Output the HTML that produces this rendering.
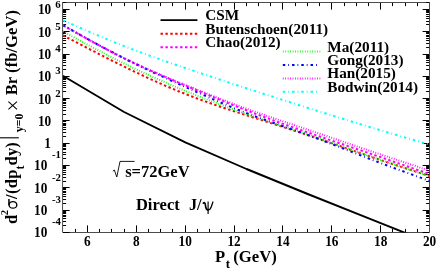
<!DOCTYPE html>
<html><head><meta charset="utf-8"><title>plot</title>
<style>html,body{margin:0;padding:0;background:#fff;}svg{display:block;will-change:transform;}text{font-family:"Liberation Serif",serif;font-weight:bold;fill:#000;}</style></head><body>
<svg width="436" height="268" viewBox="0 0 436 268">
<rect x="0" y="0" width="436" height="268" fill="#fff"/>
<rect x="62.7" y="2.5" width="366.8" height="230.0" fill="none" stroke="#000" stroke-width="0.7"/>
<path d="M75.5,232.0 v-3.1 M75.5,3.0 v3.1 M87.5,232.0 v-6.6 M87.5,3.0 v6.6 M99.5,232.0 v-3.1 M99.5,3.0 v3.1 M111.5,232.0 v-3.1 M111.5,3.0 v3.1 M124.5,232.0 v-3.1 M124.5,3.0 v3.1 M136.5,232.0 v-6.6 M136.5,3.0 v6.6 M148.5,232.0 v-3.1 M148.5,3.0 v3.1 M160.5,232.0 v-3.1 M160.5,3.0 v3.1 M172.5,232.0 v-3.1 M172.5,3.0 v3.1 M185.5,232.0 v-6.6 M185.5,3.0 v6.6 M197.5,232.0 v-3.1 M197.5,3.0 v3.1 M209.5,232.0 v-3.1 M209.5,3.0 v3.1 M221.5,232.0 v-3.1 M221.5,3.0 v3.1 M234.5,232.0 v-6.6 M234.5,3.0 v6.6 M246.5,232.0 v-3.1 M246.5,3.0 v3.1 M258.5,232.0 v-3.1 M258.5,3.0 v3.1 M270.5,232.0 v-3.1 M270.5,3.0 v3.1 M282.5,232.0 v-6.6 M282.5,3.0 v6.6 M295.5,232.0 v-3.1 M295.5,3.0 v3.1 M307.5,232.0 v-3.1 M307.5,3.0 v3.1 M319.5,232.0 v-3.1 M319.5,3.0 v3.1 M331.5,232.0 v-6.6 M331.5,3.0 v6.6 M344.5,232.0 v-3.1 M344.5,3.0 v3.1 M356.5,232.0 v-3.1 M356.5,3.0 v3.1 M368.5,232.0 v-3.1 M368.5,3.0 v3.1 M380.5,232.0 v-6.6 M380.5,3.0 v6.6 M392.5,232.0 v-3.1 M392.5,3.0 v3.1 M405.5,232.0 v-3.1 M405.5,3.0 v3.1 M417.5,232.0 v-3.1 M417.5,3.0 v3.1 M63.0,232.5 h6.6 M429.2,232.5 h-6.6 M63.0,225.5 h3.1 M429.2,225.5 h-3.1 M63.0,221.5 h3.1 M429.2,221.5 h-3.1 M63.0,218.5 h3.1 M429.2,218.5 h-3.1 M63.0,216.5 h3.1 M429.2,216.5 h-3.1 M63.0,215.5 h3.1 M429.2,215.5 h-3.1 M63.0,213.5 h3.1 M429.2,213.5 h-3.1 M63.0,212.5 h3.1 M429.2,212.5 h-3.1 M63.0,211.5 h3.1 M429.2,211.5 h-3.1 M63.0,210.5 h6.6 M429.2,210.5 h-6.6 M63.0,203.5 h3.1 M429.2,203.5 h-3.1 M63.0,199.5 h3.1 M429.2,199.5 h-3.1 M63.0,196.5 h3.1 M429.2,196.5 h-3.1 M63.0,194.5 h3.1 M429.2,194.5 h-3.1 M63.0,192.5 h3.1 M429.2,192.5 h-3.1 M63.0,191.5 h3.1 M429.2,191.5 h-3.1 M63.0,189.5 h3.1 M429.2,189.5 h-3.1 M63.0,188.5 h3.1 M429.2,188.5 h-3.1 M63.0,187.5 h6.6 M429.2,187.5 h-6.6 M63.0,181.5 h3.1 M429.2,181.5 h-3.1 M63.0,177.5 h3.1 M429.2,177.5 h-3.1 M63.0,174.5 h3.1 M429.2,174.5 h-3.1 M63.0,172.5 h3.1 M429.2,172.5 h-3.1 M63.0,170.5 h3.1 M429.2,170.5 h-3.1 M63.0,168.5 h3.1 M429.2,168.5 h-3.1 M63.0,167.5 h3.1 M429.2,167.5 h-3.1 M63.0,166.5 h3.1 M429.2,166.5 h-3.1 M63.0,165.5 h6.6 M429.2,165.5 h-6.6 M63.0,158.5 h3.1 M429.2,158.5 h-3.1 M63.0,154.5 h3.1 M429.2,154.5 h-3.1 M63.0,152.5 h3.1 M429.2,152.5 h-3.1 M63.0,149.5 h3.1 M429.2,149.5 h-3.1 M63.0,148.5 h3.1 M429.2,148.5 h-3.1 M63.0,146.5 h3.1 M429.2,146.5 h-3.1 M63.0,145.5 h3.1 M429.2,145.5 h-3.1 M63.0,144.5 h3.1 M429.2,144.5 h-3.1 M63.0,143.5 h6.6 M429.2,143.5 h-6.6 M63.0,136.5 h3.1 M429.2,136.5 h-3.1 M63.0,132.5 h3.1 M429.2,132.5 h-3.1 M63.0,129.5 h3.1 M429.2,129.5 h-3.1 M63.0,127.5 h3.1 M429.2,127.5 h-3.1 M63.0,125.5 h3.1 M429.2,125.5 h-3.1 M63.0,124.5 h3.1 M429.2,124.5 h-3.1 M63.0,123.5 h3.1 M429.2,123.5 h-3.1 M63.0,121.5 h3.1 M429.2,121.5 h-3.1 M63.0,120.5 h6.6 M429.2,120.5 h-6.6 M63.0,114.5 h3.1 M429.2,114.5 h-3.1 M63.0,110.5 h3.1 M429.2,110.5 h-3.1 M63.0,107.5 h3.1 M429.2,107.5 h-3.1 M63.0,105.5 h3.1 M429.2,105.5 h-3.1 M63.0,103.5 h3.1 M429.2,103.5 h-3.1 M63.0,102.5 h3.1 M429.2,102.5 h-3.1 M63.0,100.5 h3.1 M429.2,100.5 h-3.1 M63.0,99.5 h3.1 M429.2,99.5 h-3.1 M63.0,98.5 h6.6 M429.2,98.5 h-6.6 M63.0,91.5 h3.1 M429.2,91.5 h-3.1 M63.0,87.5 h3.1 M429.2,87.5 h-3.1 M63.0,85.5 h3.1 M429.2,85.5 h-3.1 M63.0,83.5 h3.1 M429.2,83.5 h-3.1 M63.0,81.5 h3.1 M429.2,81.5 h-3.1 M63.0,79.5 h3.1 M429.2,79.5 h-3.1 M63.0,78.5 h3.1 M429.2,78.5 h-3.1 M63.0,77.5 h3.1 M429.2,77.5 h-3.1 M63.0,76.5 h6.6 M429.2,76.5 h-6.6 M63.0,69.5 h3.1 M429.2,69.5 h-3.1 M63.0,65.5 h3.1 M429.2,65.5 h-3.1 M63.0,62.5 h3.1 M429.2,62.5 h-3.1 M63.0,60.5 h3.1 M429.2,60.5 h-3.1 M63.0,58.5 h3.1 M429.2,58.5 h-3.1 M63.0,57.5 h3.1 M429.2,57.5 h-3.1 M63.0,56.5 h3.1 M429.2,56.5 h-3.1 M63.0,55.5 h3.1 M429.2,55.5 h-3.1 M63.0,54.5 h6.6 M429.2,54.5 h-6.6 M63.0,47.5 h3.1 M429.2,47.5 h-3.1 M63.0,43.5 h3.1 M429.2,43.5 h-3.1 M63.0,40.5 h3.1 M429.2,40.5 h-3.1 M63.0,38.5 h3.1 M429.2,38.5 h-3.1 M63.0,36.5 h3.1 M429.2,36.5 h-3.1 M63.0,35.5 h3.1 M429.2,35.5 h-3.1 M63.0,33.5 h3.1 M429.2,33.5 h-3.1 M63.0,32.5 h3.1 M429.2,32.5 h-3.1 M63.0,31.5 h6.6 M429.2,31.5 h-6.6 M63.0,24.5 h3.1 M429.2,24.5 h-3.1 M63.0,21.5 h3.1 M429.2,21.5 h-3.1 M63.0,18.5 h3.1 M429.2,18.5 h-3.1 M63.0,16.5 h3.1 M429.2,16.5 h-3.1 M63.0,14.5 h3.1 M429.2,14.5 h-3.1 M63.0,12.5 h3.1 M429.2,12.5 h-3.1 M63.0,11.5 h3.1 M429.2,11.5 h-3.1 M63.0,10.5 h3.1 M429.2,10.5 h-3.1 M63.0,9.5 h6.6 M429.2,9.5 h-6.6 M63.0,2.5 h3.1 M429.2,2.5 h-3.1" stroke="#000" stroke-width="1" fill="none"/>
<clipPath id="c"><rect x="62.7" y="2.5" width="366.8" height="230.0"/></clipPath>
<g clip-path="url(#c)" fill="none" stroke-width="2">
<path d="M62.90,75.80 L124.10,112.00 L185.30,142.40 L246.50,169.00 L307.70,194.00 L368.80,218.40 L403.90,232.40 L430.00,242.80" stroke="#000" stroke-width="1.9" stroke-linejoin="round"/>
<path d="M62.90,35.30 L69.02,38.50 L75.13,41.69 L81.25,44.87 L87.37,48.04 L93.48,51.19 L99.60,54.33 L105.72,57.44 L111.83,60.52 L117.95,63.57 L124.07,66.58 L130.18,69.56 L136.30,72.49 L142.42,75.37 L148.53,78.20 L154.65,80.97 L160.77,83.69 L166.88,86.35 L173.00,88.94 L179.12,91.46 L185.23,93.91 L191.35,96.29 L197.47,98.60 L203.58,100.84 L209.70,103.03 L215.82,105.16 L221.93,107.26 L228.05,109.31 L234.17,111.33 L240.28,113.32 L246.40,115.30 L252.52,117.26 L258.63,119.21 L264.75,121.16 L270.87,123.10 L276.98,125.05 L283.10,127.01 L289.22,128.98 L295.33,130.96 L301.45,132.96 L307.57,134.99 L313.68,137.04 L319.80,139.12 L325.92,141.22 L332.03,143.33 L338.15,145.45 L344.27,147.57 L350.38,149.69 L356.50,151.81 L362.62,153.92 L368.73,156.01 L374.85,158.09 L380.97,160.14 L387.08,162.18 L393.20,164.21 L399.32,166.23 L405.43,168.23 L411.55,170.23 L417.67,172.22 L423.78,174.21 L429.90,176.20" stroke="#ff0000" stroke-dasharray="2.45 2.45"/>
<path d="M62.90,25.20 L69.02,28.65 L75.13,32.10 L81.25,35.53 L87.37,38.93 L93.48,42.30 L99.60,45.62 L105.72,48.89 L111.83,52.09 L117.95,55.23 L124.07,58.28 L130.18,61.25 L136.30,64.14 L142.42,66.96 L148.53,69.71 L154.65,72.42 L160.77,75.07 L166.88,77.69 L173.00,80.28 L179.12,82.85 L185.23,85.41 L191.35,87.97 L197.47,90.52 L203.58,93.07 L209.70,95.59 L215.82,98.11 L221.93,100.60 L228.05,103.07 L234.17,105.51 L240.28,107.92 L246.40,110.30 L252.52,112.64 L258.63,114.94 L264.75,117.21 L270.87,119.45 L276.98,121.67 L283.10,123.85 L289.22,126.01 L295.33,128.16 L301.45,130.28 L307.57,132.39 L313.68,134.48 L319.80,136.57 L325.92,138.64 L332.03,140.71 L338.15,142.78 L344.27,144.84 L350.38,146.90 L356.50,148.97 L362.62,151.04 L368.73,153.11 L374.85,155.20 L380.97,157.29 L387.08,159.39 L393.20,161.49 L399.32,163.60 L405.43,165.72 L411.55,167.83 L417.67,169.95 L423.78,172.08 L429.90,174.20" stroke="#ff00ff" stroke-dasharray="2.45 2.45"/>
<path d="M62.90,31.40 L69.02,34.71 L75.13,38.02 L81.25,41.31 L87.37,44.58 L93.48,47.83 L99.60,51.05 L105.72,54.23 L111.83,57.37 L117.95,60.45 L124.07,63.48 L130.18,66.45 L136.30,69.36 L142.42,72.22 L148.53,75.02 L154.65,77.76 L160.77,80.46 L166.88,83.11 L173.00,85.72 L179.12,88.29 L185.23,90.81 L191.35,93.30 L197.47,95.76 L203.58,98.17 L209.70,100.55 L215.82,102.89 L221.93,105.19 L228.05,107.46 L234.17,109.68 L240.28,111.86 L246.40,114.00 L252.52,116.10 L258.63,118.17 L264.75,120.21 L270.87,122.23 L276.98,124.24 L283.10,126.25 L289.22,128.26 L295.33,130.28 L301.45,132.32 L307.57,134.39 L313.68,136.49 L319.80,138.62 L325.92,140.77 L332.03,142.93 L338.15,145.11 L344.27,147.28 L350.38,149.46 L356.50,151.63 L362.62,153.78 L368.73,155.91 L374.85,158.02 L380.97,160.10 L387.08,162.16 L393.20,164.20 L399.32,166.22 L405.43,168.24 L411.55,170.24 L417.67,172.23 L423.78,174.22 L429.90,176.20" stroke="#00ff00" stroke-dasharray="0.82 1.63"/>
<path d="M62.90,25.20 L69.02,28.62 L75.13,32.03 L81.25,35.43 L87.37,38.80 L93.48,42.15 L99.60,45.47 L105.72,48.75 L111.83,51.98 L117.95,55.16 L124.07,58.28 L130.18,61.34 L136.30,64.34 L142.42,67.28 L148.53,70.17 L154.65,73.03 L160.77,75.85 L166.88,78.64 L173.00,81.41 L179.12,84.17 L185.23,86.91 L191.35,89.66 L197.47,92.39 L203.58,95.10 L209.70,97.79 L215.82,100.45 L221.93,103.06 L228.05,105.64 L234.17,108.15 L240.28,110.61 L246.40,113.00 L252.52,115.32 L258.63,117.57 L264.75,119.78 L270.87,121.94 L276.98,124.09 L283.10,126.22 L289.22,128.35 L295.33,130.50 L301.45,132.67 L307.57,134.89 L313.68,137.15 L319.80,139.46 L325.92,141.80 L332.03,144.17 L338.15,146.56 L344.27,148.96 L350.38,151.37 L356.50,153.76 L362.62,156.15 L368.73,158.51 L374.85,160.85 L380.97,163.16 L387.08,165.44 L393.20,167.70 L399.32,169.94 L405.43,172.17 L411.55,174.39 L417.67,176.60 L423.78,178.80 L429.90,181.00" stroke="#0000ff" stroke-dasharray="2.45 3 0.8 3"/>
<path d="M62.90,25.20 L69.02,28.66 L75.13,32.12 L81.25,35.55 L87.37,38.96 L93.48,42.33 L99.60,45.65 L105.72,48.92 L111.83,52.12 L117.95,55.24 L124.07,58.28 L130.18,61.23 L136.30,64.10 L142.42,66.88 L148.53,69.60 L154.65,72.25 L160.77,74.86 L166.88,77.42 L173.00,79.94 L179.12,82.44 L185.23,84.91 L191.35,87.38 L197.47,89.83 L203.58,92.27 L209.70,94.68 L215.82,97.07 L221.93,99.44 L228.05,101.78 L234.17,104.09 L240.28,106.36 L246.40,108.60 L252.52,110.80 L258.63,112.96 L264.75,115.09 L270.87,117.20 L276.98,119.28 L283.10,121.36 L289.22,123.42 L295.33,125.47 L301.45,127.53 L307.57,129.59 L313.68,131.66 L319.80,133.73 L325.92,135.82 L332.03,137.91 L338.15,139.99 L344.27,142.08 L350.38,144.17 L356.50,146.26 L362.62,148.34 L368.73,150.41 L374.85,152.48 L380.97,154.53 L387.08,156.58 L393.20,158.62 L399.32,160.66 L405.43,162.69 L411.55,164.72 L417.67,166.75 L423.78,168.78 L429.90,170.80" stroke="#ff00ff" stroke-dasharray="0.82 1.63"/>
<path d="M62.90,20.30 L69.02,22.97 L75.13,25.64 L81.25,28.29 L87.37,30.93 L93.48,33.54 L99.60,36.13 L105.72,38.68 L111.83,41.20 L117.95,43.67 L124.07,46.09 L130.18,48.45 L136.30,50.77 L142.42,53.03 L148.53,55.26 L154.65,57.45 L160.77,59.61 L166.88,61.74 L173.00,63.85 L179.12,65.93 L185.23,68.01 L191.35,70.08 L197.47,72.14 L203.58,74.19 L209.70,76.23 L215.82,78.26 L221.93,80.29 L228.05,82.31 L234.17,84.31 L240.28,86.31 L246.40,88.30 L252.52,90.28 L258.63,92.25 L264.75,94.22 L270.87,96.17 L276.98,98.12 L283.10,100.07 L289.22,102.00 L295.33,103.94 L301.45,105.87 L307.57,107.79 L313.68,109.71 L319.80,111.63 L325.92,113.54 L332.03,115.44 L338.15,117.34 L344.27,119.24 L350.38,121.12 L356.50,122.99 L362.62,124.86 L368.73,126.71 L374.85,128.55 L380.97,130.38 L387.08,132.21 L393.20,134.02 L399.32,135.83 L405.43,137.63 L411.55,139.43 L417.67,141.22 L423.78,143.01 L429.90,144.80" stroke="#00ffff" stroke-dasharray="2.45 3 0.8 3"/>
</g>
<text transform="translate(87.44,246.40) scale(1,1.06)" font-size="13.3" text-anchor="middle">6</text>
<text transform="translate(136.32,246.40) scale(1,1.06)" font-size="13.3" text-anchor="middle">8</text>
<text transform="translate(185.20,246.40) scale(1,1.06)" font-size="13.3" text-anchor="middle">10</text>
<text transform="translate(234.08,246.40) scale(1,1.06)" font-size="13.3" text-anchor="middle">12</text>
<text transform="translate(282.96,246.40) scale(1,1.06)" font-size="13.3" text-anchor="middle">14</text>
<text transform="translate(331.84,246.40) scale(1,1.06)" font-size="13.3" text-anchor="middle">16</text>
<text transform="translate(380.72,246.40) scale(1,1.06)" font-size="13.3" text-anchor="middle">18</text>
<text transform="translate(429.60,246.40) scale(1,1.06)" font-size="13.3" text-anchor="middle">20</text>
<text transform="translate(47.40,237.30) scale(1,1.06)" font-size="13.3" text-anchor="end">10</text>
<text transform="translate(52.00,225.30) scale(1,1.0)" font-size="10.8" text-anchor="start">-4</text>
<text transform="translate(47.40,215.00) scale(1,1.06)" font-size="13.3" text-anchor="end">10</text>
<text transform="translate(52.00,203.00) scale(1,1.0)" font-size="10.8" text-anchor="start">-3</text>
<text transform="translate(47.40,192.70) scale(1,1.06)" font-size="13.3" text-anchor="end">10</text>
<text transform="translate(52.00,180.70) scale(1,1.0)" font-size="10.8" text-anchor="start">-2</text>
<text transform="translate(47.40,170.40) scale(1,1.06)" font-size="13.3" text-anchor="end">10</text>
<text transform="translate(52.00,158.40) scale(1,1.0)" font-size="10.8" text-anchor="start">-1</text>
<text transform="translate(51.00,148.10) scale(1,1.06)" font-size="13.3" text-anchor="end">1</text>
<text transform="translate(51.20,125.80) scale(1,1.06)" font-size="13.3" text-anchor="end">10</text>
<text transform="translate(51.20,103.50) scale(1,1.06)" font-size="13.3" text-anchor="end">10</text>
<text transform="translate(55.30,96.50) scale(1,1.0)" font-size="10.8" text-anchor="start">2</text>
<text transform="translate(51.20,81.20) scale(1,1.06)" font-size="13.3" text-anchor="end">10</text>
<text transform="translate(55.30,74.20) scale(1,1.0)" font-size="10.8" text-anchor="start">3</text>
<text transform="translate(51.20,58.90) scale(1,1.06)" font-size="13.3" text-anchor="end">10</text>
<text transform="translate(55.30,51.90) scale(1,1.0)" font-size="10.8" text-anchor="start">4</text>
<text transform="translate(51.20,36.60) scale(1,1.06)" font-size="13.3" text-anchor="end">10</text>
<text transform="translate(55.30,29.60) scale(1,1.0)" font-size="10.8" text-anchor="start">5</text>
<text transform="translate(51.20,14.30) scale(1,1.06)" font-size="13.3" text-anchor="end">10</text>
<text transform="translate(55.30,8.20) scale(1,1.0)" font-size="10.8" text-anchor="start">6</text>
<text x="215.0" y="261.9" font-size="16.6">P</text>
<text x="225.8" y="267.7" font-size="12.8">t</text>
<text x="233.2" y="261.9" font-size="16.7">(GeV)</text>
<text transform="translate(17.3,223.9) rotate(-90)" font-size="16.5" font-weight="bold" letter-spacing="0" xml:space="preserve">d</text>
<text transform="translate(7.6,215.2) rotate(-90)" font-size="10.5" font-weight="bold" letter-spacing="0" xml:space="preserve">2</text>
<ellipse cx="12.95" cy="204.9" rx="3.85" ry="3.25" fill="none" stroke="#000" stroke-width="1.35"/>
<path d="M8.95,205.2 V198.9" fill="none" stroke="#000" stroke-width="1.5"/>
<text transform="translate(17.3,198.9) rotate(-90)" font-size="16.5" font-weight="bold" letter-spacing="0.3" xml:space="preserve">/(dp</text>
<text transform="translate(24.3,169.6) rotate(-90)" font-size="12" font-weight="bold" letter-spacing="0" xml:space="preserve">t</text>
<text transform="translate(17.3,165.4) rotate(-90)" font-size="16.5" font-weight="bold" letter-spacing="0.1" xml:space="preserve">dy)</text>
<path d="M0,137.8 H18.8" stroke="#000" stroke-width="1.1" fill="none"/>
<text transform="translate(22.8,132.3) rotate(-90)" font-size="11.9" font-weight="bold" letter-spacing="0" xml:space="preserve">y=0</text>
<path d="M8.4,101.6 L17.0,109.3 M8.4,109.3 L17.0,101.6" stroke="#000" stroke-width="1.05" fill="none"/>
<text transform="translate(17.3,95.25) rotate(-90)" font-size="16.5" font-weight="bold" letter-spacing="0.07" xml:space="preserve">Br (fb/GeV)</text>
<g fill="none" stroke-width="2">
<path d="M160.5,20.2 H197.4" stroke="#000" stroke-width="1.8"/>
<path d="M160.5,33.8 H197.4" stroke="#ff0000" stroke-dasharray="2.45 2.45"/>
<path d="M160.5,47.2 H197.4" stroke="#ff00ff" stroke-dasharray="2.45 2.45"/>
<path d="M282.8,51.6 H320.3" stroke="#00ff00" stroke-dasharray="0.82 1.63"/>
<path d="M282.8,65.0 H319.7" stroke="#0000ff" stroke-dasharray="2.45 3 0.8 3"/>
<path d="M282.8,78.5 H320.3" stroke="#ff00ff" stroke-dasharray="0.82 1.63"/>
<path d="M282.8,91.8 H319.7" stroke="#00ffff" stroke-dasharray="2.45 3 0.8 3"/>
</g>
<text x="205.3" y="20.10" font-size="15.25">CSM</text>
<text x="205.3" y="33.50" font-size="15.25">Butenschoen(2011)</text>
<text x="205.3" y="46.90" font-size="15.25">Chao(2012)</text>
<text x="327.3" y="52.00" font-size="15.25">Ma(2011)</text>
<text x="327.3" y="65.20" font-size="15.25">Gong(2013)</text>
<text x="327.3" y="78.40" font-size="15.25">Han(2015)</text>
<text x="327.3" y="91.60" font-size="15.25">Bodwin(2014)</text>
<path d="M112.8,171.2 L114.3,170.0 L116.8,177.0 L120.0,161.4 H134.6" stroke="#000" stroke-width="0.9" fill="none"/>
<text x="125.2" y="176.6" font-size="16.5">s=72GeV</text>
<text x="135.9" y="210.3" font-size="16.5" letter-spacing="0.05">Direct</text>
<text x="188.9" y="210.3" font-size="16.3">J/</text>
<g transform="translate(202.6,210.2)" fill="none" stroke="#000" stroke-linecap="round" stroke-linejoin="round"><path d="M0.7,-7.0 Q1.9,-8.4 2.6,-6.4 L3.1,-3.2 Q3.7,-0.3 5.5,-0.3" stroke-width="1.6"/><path d="M5.5,-0.3 Q7.6,-0.3 8.7,-3.4 L10.3,-8.2" stroke-width="1.25"/><path d="M5.5,-8.7 V3.7" stroke-width="1.15" stroke-linecap="butt"/></g>
</svg></body></html>
